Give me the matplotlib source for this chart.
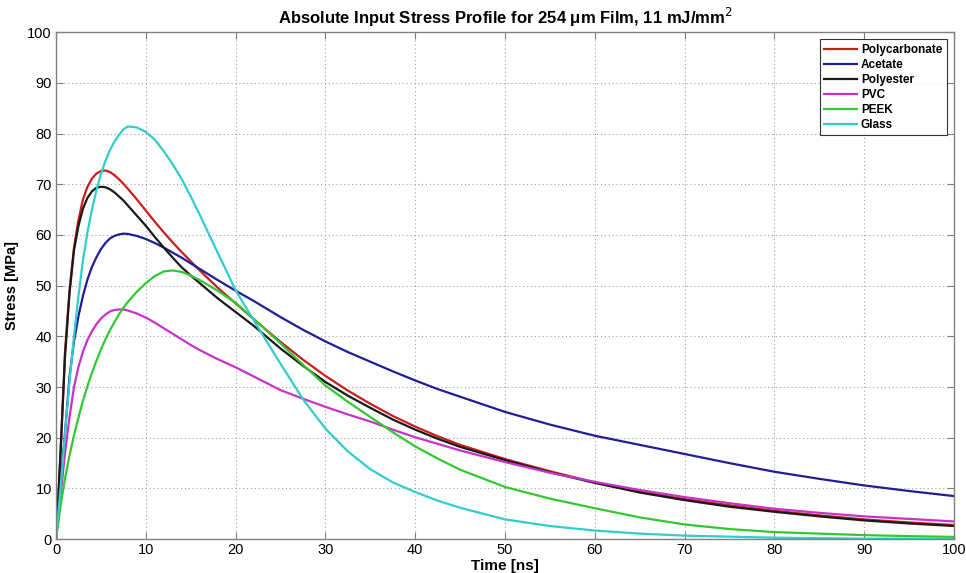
import matplotlib
matplotlib.use("Agg")
import matplotlib.pyplot as plt

# Time samples [ns]
time_ns = [0, 0.25, 0.5, 1, 1.5, 2, 2.5, 3, 3.5, 4,
           4.5, 5, 5.5, 6, 6.5, 7, 7.5, 8, 9, 10,
           11, 12, 13, 14, 15, 16, 18, 20, 22, 25,
           27.5, 30, 32.5, 35, 37.5, 40, 42.5, 45, 50, 55,
           60, 65, 70, 75, 80, 85, 90, 95, 100]

polycarbonate = [0, 8, 17, 37, 49, 57.5, 63, 67, 69.5, 71.1,
                 72.1, 72.6, 72.7, 72.4, 71.8, 71, 70.1, 69.1, 67, 64.8,
                 62.6, 60.5, 58.5, 56.6, 54.8, 53, 49.6, 46.5, 43.4, 38.9,
                 35.4, 32.2, 29.3, 26.7, 24.3, 22.2, 20.3, 18.6, 15.8, 13.4,
                 11.2, 9.4, 7.9, 6.7, 5.6, 4.7, 3.9, 3.3, 2.8]
acetate = [0, 5.5, 11, 21, 32, 39, 44, 48, 51.2, 53.7,
           55.6, 57.2, 58.4, 59.3, 59.8, 60.1, 60.25, 60.2, 59.8, 59.2,
           58.4, 57.5, 56.5, 55.5, 54.4, 53.3, 51.1, 49.0, 47.0, 43.8,
           41.3, 39.0, 36.9, 35, 33.1, 31.3, 29.6, 28.1, 25.1, 22.6,
           20.4, 18.6, 16.8, 15, 13.3, 11.9, 10.6, 9.5, 8.5]
polyester = [0, 8, 17, 36, 48.5, 57, 61.8, 65.2, 67.3, 68.6,
             69.3, 69.5, 69.4, 69, 68.4, 67.6, 66.8, 65.8, 63.8, 61.8,
             59.6, 57.5, 55.5, 53.6, 52, 50.5, 47.5, 44.8, 42.1, 37.6,
             34.2, 31, 28.3, 25.9, 23.6, 21.6, 19.8, 18.2, 15.6, 13.2,
             11.1, 9.2, 7.7, 6.4, 5.4, 4.5, 3.7, 3.1, 2.6]
pvc = [0, 4.5, 8.5, 17, 24, 30, 34, 37, 39.3, 41,
       42.4, 43.5, 44.3, 44.9, 45.2, 45.3, 45.3, 45.1, 44.5, 43.7,
       42.7, 41.6, 40.5, 39.4, 38.3, 37.3, 35.5, 33.9, 32.1, 29.4,
       27.7, 26.1, 24.6, 23.2, 21.6, 20.1, 18.8, 17.5, 15.2, 13.1,
       11.3, 9.7, 8.3, 7.1, 6.0, 5.2, 4.5, 4.0, 3.5]
peek = [0, 3.2, 6.5, 12, 16.5, 20.5, 24, 27.3, 30.2, 32.8,
        35.2, 37.4, 39.4, 41.2, 42.8, 44.3, 45.6, 46.8, 48.8, 50.5,
        51.9, 52.8, 53, 52.7, 52, 51.1, 49, 46.6, 43.5, 38.6,
        34.4, 30.3, 27.1, 24.1, 21.1, 18.3, 15.9, 13.7, 10.3, 8.0,
        6.1, 4.3, 2.9, 2.0, 1.4, 1.1, 0.8, 0.6, 0.45]
glass = [0, 5, 10, 21, 31, 40, 48, 55, 60.5, 65,
         68.8, 72, 74.6, 76.7, 78.4, 79.7, 80.8, 81.4, 81.2, 80.3,
         78.8, 76.5, 73.9, 71, 67.6, 64, 56.5, 49.1, 43.2, 34.6,
         27.6, 21.8, 17.3, 13.8, 11.2, 9.3, 7.6, 6.2, 3.9, 2.6,
         1.7, 1.1, 0.7, 0.5, 0.3, 0.2, 0.1, 0.1, 0.05]

series_names = ["Polycarbonate", "Acetate", "Polyester", "PVC", "PEEK", "Glass"]
series_values = [polycarbonate, acetate, polyester, pvc, peek, glass]
colors = ["#c81e1e", "#1e1e96", "#1a1a1a", "#c832c8", "#32c832", "#32cccc"]

x_ticks = list(range(0, 101, 10))
y_ticks = list(range(0, 101, 10))

plt.rcParams['font.family'] = ['Liberation Sans', 'DejaVu Sans']

fig = plt.figure(figsize=(9.66, 5.73), dpi=100)
ax = fig.add_axes([0.058, 0.059, 0.9296, 0.885])

for name, vals, c in zip(series_names, series_values, colors):
    ax.plot(time_ns, vals, color=c, lw=1.6, label=name, solid_joinstyle='round')

ax.set_xlim(0, 100)
ax.set_ylim(0, 100)
ax.set_xticks(x_ticks)
ax.set_yticks(y_ticks)
ax.tick_params(direction='in', top=True, right=True, length=5, width=0.8,
               color='#808080', labelsize=10.5, pad=3)
for s in ax.spines.values():
    s.set_color('#808080')
    s.set_linewidth(1.0)
ax.grid(True, linestyle=(0, (1, 2.5)), color='#a0a0a0', linewidth=0.8)

ax.set_title("Absolute Input Stress Profile for 254 \u03bcm Film, 11 mJ/mm$^2$",
             fontsize=12, fontweight='bold', pad=6)
ax.set_xlabel("Time [ns]", fontsize=11, fontweight='bold', labelpad=1)
ax.set_ylabel("Stress [MPa]", fontsize=10.5, fontweight='bold', labelpad=6)

leg = ax.legend(loc='upper right', frameon=True, fancybox=False,
                edgecolor='black', handlelength=2.8, handletextpad=0.3,
                labelspacing=0.25, borderpad=0.4, borderaxespad=0.6,
                prop={'weight': 'bold', 'size': 8.5})
leg.get_frame().set_linewidth(0.8)

fig.savefig("out.png", dpi=100)
